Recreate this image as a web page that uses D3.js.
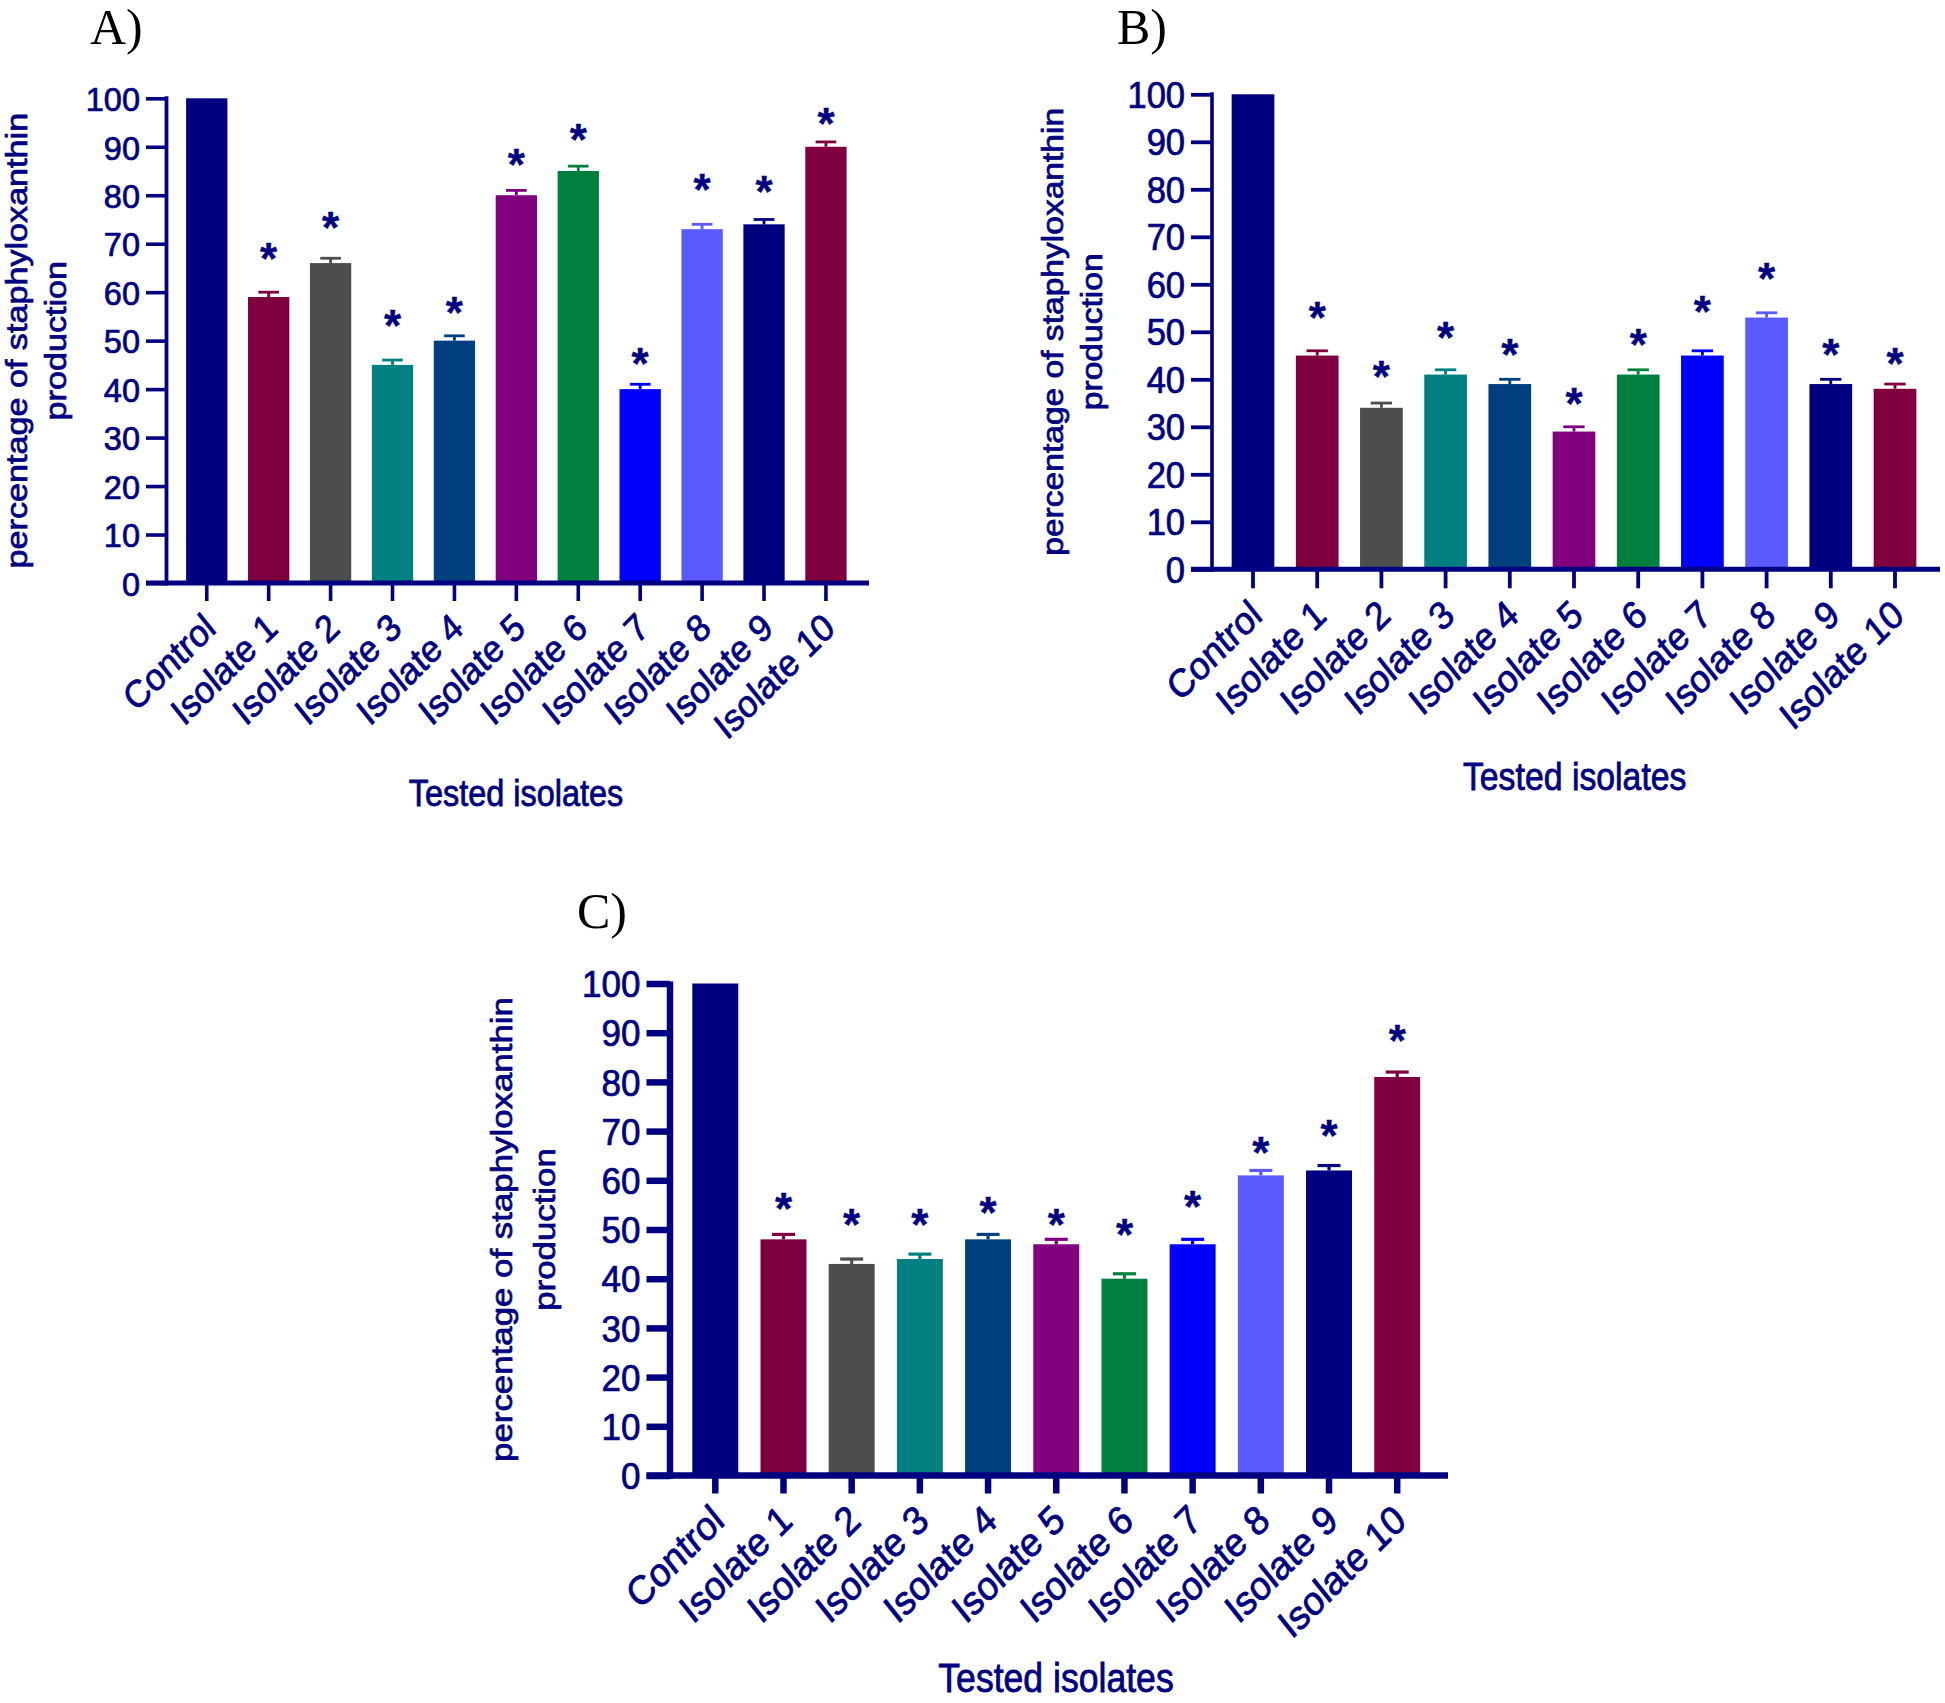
<!DOCTYPE html>
<html>
<head>
<meta charset="utf-8">
<script src="https://cdn.jsdelivr.net/npm/d3@7"></script>
<style>
  html, body { margin: 0; padding: 0; background: #ffffff; }
  svg { display: block; }
</style>
</head>
<body>
<svg id="chart" width="1945" height="1703"></svg>
<script>
// ---------------- DATA ----------------
const categories = ["Control", "Isolate 1", "Isolate 2", "Isolate 3", "Isolate 4", "Isolate 5",
                    "Isolate 6", "Isolate 7", "Isolate 8", "Isolate 9", "Isolate 10"];
const barColors = ["#000080", "#80003f", "#4d4d4d", "#008080", "#00407f", "#800080",
                   "#00803f", "#0000ff", "#5a5aff", "#000080", "#80003f"];

const valuesA = [100, 59, 66, 45, 50, 80, 85, 40, 73, 74, 90];
const errorsA = [0, 1, 1, 1, 1, 1, 1, 1, 1, 1, 1];
const starsA  = [null, 68.9, 75.4, 55.2, 57.7, 88.3, 93.4, 47.2, 83.2, 82.8, 96.7];

const valuesB = [100, 45, 34, 41, 39, 29, 41, 45, 53, 39, 38];
const errorsB = [0, 1, 1, 1, 1, 1, 1, 1, 1, 1, 1];
const starsB  = [null, 55.0, 42.7, 50.8, 47.3, 36.9, 49.4, 56.3, 63.3, 47.2, 45.3];

const valuesC = [100, 48, 43, 44, 48, 47, 40, 47, 61, 62, 81];
const errorsC = [0, 1, 1, 1, 1, 1, 1, 1, 1, 1, 1];
const starsC  = [null, 56.2, 52.9, 52.9, 55.4, 52.9, 50.9, 56.6, 67.5, 71.0, 90.3];

const yTicks = [0, 10, 20, 30, 40, 50, 60, 70, 80, 90, 100];
const panelLabels = ["A)", "B)", "C)"];
const xTitle = "Tested isolates";
const yTitleLines = ["percentage of staphyloxanthin", "production"];
const starText = "*";

// ---------------- LAYOUT ----------------
const NAVY = "#000080";
const SANS = "'Liberation Sans', Arial, sans-serif";
const SERIF = "'Liberation Serif', 'Times New Roman', serif";
const TEXT_STROKE = 0.7;

const panels = [
  { label: panelLabels[0], values: valuesA, errors: errorsA, stars: starsA,
    labelX: 90, labelY: 44,
    yAxisX: 166.5, y0: 583, y100: 98.3,
    bandStart: 175.8, bandEnd: 856.9, pad: 0.333,
    xAxisStart: 146, xAxisEnd: 869,
    yLW: 3.8, xLW: 5, tickW: 3.6, yTickLen: 20.5, xTickLen: 18,
    tickFont: 32.5, xLabFont: 34, xTitleFont: 32.4, yTitleFont: 29.7,
    xTitleX: 516, xTitleY: 806, yTitleX1: 27, yTitleX2: 65.5, errW: 2.8 },
  { label: panelLabels[1], values: valuesB, errors: errorsB, stars: starsB,
    labelX: 1117, labelY: 44,
    yAxisX: 1212, y0: 569.3, y100: 94.3,
    bandStart: 1220.9, bandEnd: 1927.1, pad: 0.335,
    xAxisStart: 1191, xAxisEnd: 1940,
    yLW: 3.6, xLW: 5, tickW: 3.8, yTickLen: 21, xTickLen: 19,
    tickFont: 34.5, xLabFont: 35, xTitleFont: 33.8, yTitleFont: 29.2,
    xTitleX: 1574.7, xTitleY: 790, yTitleX1: 1063, yTitleX2: 1102, errW: 2.8 },
  { label: panelLabels[2], values: valuesC, errors: errorsC, stars: starsC,
    labelX: 577, labelY: 928,
    yAxisX: 670, y0: 1475.5, y100: 983.5,
    bandStart: 681.2, bandEnd: 1431.3, pad: 0.326,
    xAxisStart: 646.5, xAxisEnd: 1448,
    yLW: 6.5, xLW: 6.5, tickW: 6.5, yTickLen: 23.5, xTickLen: 18,
    tickFont: 35, xLabFont: 36, xTitleFont: 35.6, yTitleFont: 30.3,
    xTitleX: 1056, xTitleY: 1692, yTitleX1: 512, yTitleX2: 555, errW: 3.2 }
];

const svg = d3.select("#chart");

function sansText(sel, size) {
  return sel.attr("font-family", SANS)
    .attr("font-size", size)
    .attr("fill", NAVY)
    .attr("stroke", NAVY)
    .attr("stroke-width", TEXT_STROKE);
}

panels.forEach(p => {
  const g = svg.append("g");

  const x = d3.scaleBand()
    .domain(categories)
    .range([p.bandStart, p.bandEnd])
    .paddingInner(p.pad)
    .paddingOuter(p.pad / 2);

  const y = d3.scaleLinear().domain([0, 100]).range([p.y0, p.y100]);

  const rows = categories.map((c, i) => ({
    cat: c, value: p.values[i], err: p.errors[i], star: p.stars[i], color: barColors[i]
  }));

  // bars
  g.selectAll("rect.bar").data(rows).join("rect")
    .attr("class", "bar")
    .attr("x", d => x(d.cat))
    .attr("width", x.bandwidth())
    .attr("y", d => y(d.value))
    .attr("height", d => y(0) - y(d.value))
    .attr("fill", d => d.color);

  // error bars (upper)
  const eb = g.selectAll("g.err").data(rows.filter(d => d.err > 0)).join("g").attr("class", "err");
  eb.append("line")
    .attr("x1", d => x(d.cat) + x.bandwidth() / 2)
    .attr("x2", d => x(d.cat) + x.bandwidth() / 2)
    .attr("y1", d => y(d.value))
    .attr("y2", d => y(d.value + d.err))
    .attr("stroke", d => d.color).attr("stroke-width", p.errW);
  eb.append("line")
    .attr("x1", d => x(d.cat) + x.bandwidth() * 0.25)
    .attr("x2", d => x(d.cat) + x.bandwidth() * 0.75)
    .attr("y1", d => y(d.value + d.err))
    .attr("y2", d => y(d.value + d.err))
    .attr("stroke", d => d.color).attr("stroke-width", p.errW);

  // significance stars
  const starFont = 44;
  sansText(g.selectAll("text.star").data(rows.filter(d => d.star != null)).join("text")
    .attr("class", "star")
    .attr("x", d => x(d.cat) + x.bandwidth() / 2)
    .attr("y", d => y(d.star) + starFont * 0.57)
    .attr("text-anchor", "middle")
    .attr("font-weight", "bold"), starFont)
    .attr("stroke-width", 0.4)
    .text(starText);

  // y axis
  const yAxis = d3.axisLeft(y).tickValues(yTicks).tickSize(p.yTickLen).tickSizeOuter(0).tickPadding(0);
  const ya = g.append("g").attr("transform", `translate(${p.yAxisX},0)`).call(yAxis);
  ya.select(".domain").remove();
  ya.selectAll(".tick line").attr("stroke", NAVY).attr("stroke-width", p.tickW);
  sansText(ya.selectAll(".tick text")
    .attr("x", null).attr("dy", null)
    .attr("transform", `translate(${-p.yTickLen - 6},0) scale(1,1.05)`)
    .attr("dy", "0.36em")
    .attr("text-anchor", "end"), p.tickFont);
  g.append("line")
    .attr("x1", p.yAxisX).attr("x2", p.yAxisX)
    .attr("y1", y(100) - 2).attr("y2", y(0) + p.xLW / 2)
    .attr("stroke", NAVY).attr("stroke-width", p.yLW);

  // x axis
  const xAxis = d3.axisBottom(x).tickSize(p.xTickLen).tickSizeOuter(0);
  const xa = g.append("g").attr("transform", `translate(0,${y(0)})`).call(xAxis);
  xa.select(".domain").remove();
  xa.selectAll(".tick line").attr("stroke", NAVY).attr("stroke-width", p.tickW);
  sansText(xa.selectAll(".tick text")
    .attr("y", null).attr("dy", null).attr("x", null)
    .attr("transform", `translate(11,${p.xTickLen + 30}) scale(1,1.12) rotate(-41.8)`)
    .attr("text-anchor", "end"), p.xLabFont);
  g.append("line")
    .attr("x1", p.xAxisStart).attr("x2", p.xAxisEnd)
    .attr("y1", y(0)).attr("y2", y(0))
    .attr("stroke", NAVY).attr("stroke-width", p.xLW);

  // x title
  sansText(g.append("text")
    .attr("transform", `translate(${p.xTitleX},${p.xTitleY}) scale(1,1.14)`)
    .attr("text-anchor", "middle"), p.xTitleFont)
    .text(xTitle);

  // y title (two lines)
  const yMid = (y(0) + y(100)) / 2;
  [p.yTitleX1, p.yTitleX2].forEach((tx, i) => {
    sansText(g.append("text")
      .attr("transform", `translate(${tx},${yMid}) scale(1,1.15) rotate(-90)`)
      .attr("text-anchor", "middle"), p.yTitleFont)
      .text(yTitleLines[i]);
  });

  // panel label
  g.append("text")
    .attr("x", p.labelX).attr("y", p.labelY)
    .attr("font-family", SERIF).attr("font-size", 50)
    .attr("fill", "#000000")
    .text(p.label);
});
</script>
</body>
</html>
